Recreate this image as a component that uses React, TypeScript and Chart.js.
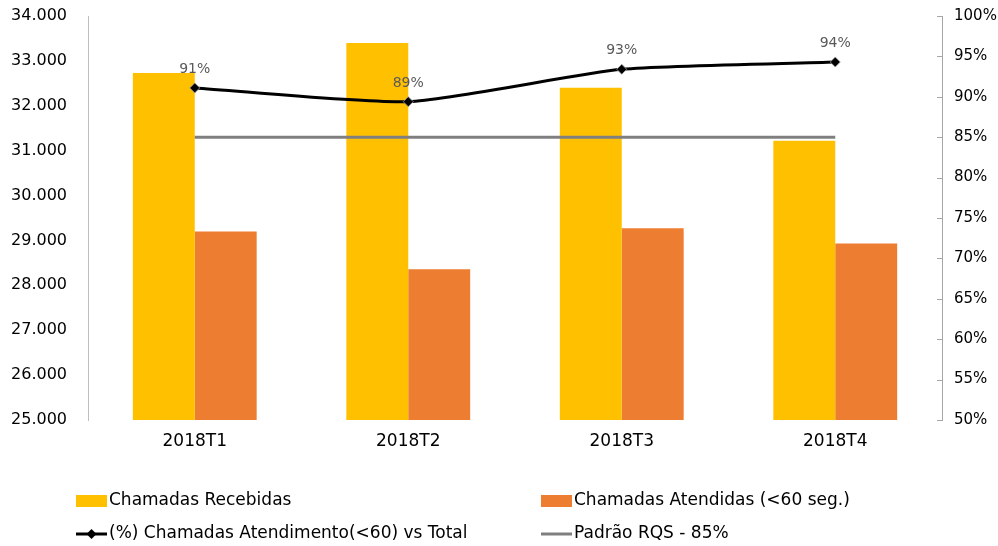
import React, { useEffect, useRef } from "react";
import { Chart, registerables } from "chart.js";

Chart.register(...registerables);

const categories = ["2018T1", "2018T2", "2018T3", "2018T4"];
const recebidas = [32730, 33400, 32400, 31220];
const atendidas = [29200, 28360, 29270, 28930];
const percentual = [91.1, 89.4, 93.4, 94.3];
const padraoRQS = [85, 85, 85, 85];
const legendLabels = [
  "Chamadas Recebidas",
  "Chamadas Atendidas (<60 seg.)",
  "(%) Chamadas Atendimento(<60) vs Total",
  "Padrão RQS - 85%",
];

const FONT = "'DejaVu Sans', sans-serif";

const fmtThousands = (v: number) => {
  const s = Math.round(v).toString();
  return s.replace(/\B(?=(\d{3})+(?!\d))/g, ".");
};

const extrasPlugin = {
  id: "extras",
  afterDatasetsDraw(chart: any) {
    const ctx = chart.ctx;
    const meta = chart.getDatasetMeta(2);
    ctx.save();
    ctx.font = `14px ${FONT}`;
    ctx.fillStyle = "#595959";
    ctx.textAlign = "center";
    ctx.textBaseline = "alphabetic";
    meta.data.forEach((pt: any, i: number) => {
      ctx.fillText(Math.round(percentual[i]) + "%", pt.x, pt.y - 15);
    });
    ctx.restore();
  },
  afterDraw(chart: any) {
    const ctx = chart.ctx;
    const y1 = chart.scales.y1;
    ctx.save();
    ctx.strokeStyle = "#a6a6a6";
    ctx.lineWidth = 1;
    y1.ticks.forEach((t: any) => {
      const y = Math.round(y1.getPixelForValue(t.value)) + 0.5;
      ctx.beginPath();
      ctx.moveTo(y1.left - 5, y);
      ctx.lineTo(y1.left, y);
      ctx.stroke();
    });
    const colX = [76, 541];
    const rowY = [501, 534];
    ctx.font = `17px ${FONT}`;
    ctx.textBaseline = "middle";
    ctx.textAlign = "left";
    const items = [
      { type: "box", color: "#FFC000" },
      { type: "box", color: "#ED7D31" },
      { type: "marker", color: "#000000" },
      { type: "line", color: "#7F7F7F" },
    ];
    items.forEach((it, i) => {
      const x = colX[i % 2];
      const y = rowY[Math.floor(i / 2)];
      if (it.type === "box") {
        ctx.fillStyle = it.color;
        ctx.fillRect(x, y - 6, 31, 12);
      } else {
        ctx.strokeStyle = it.color;
        ctx.lineWidth = 3;
        ctx.beginPath();
        ctx.moveTo(x, y);
        ctx.lineTo(x + 31, y);
        ctx.stroke();
        if (it.type === "marker") {
          ctx.fillStyle = "#000";
          ctx.beginPath();
          const cx = x + 15.5;
          ctx.moveTo(cx, y - 5);
          ctx.lineTo(cx + 5, y);
          ctx.lineTo(cx, y + 5);
          ctx.lineTo(cx - 5, y);
          ctx.closePath();
          ctx.fill();
        }
      }
      ctx.fillStyle = "#000";
      ctx.fillText(legendLabels[i], x + 33, y);
    });
    ctx.restore();
  },
};

export default function App() {
  const ref = useRef<HTMLCanvasElement>(null);
  useEffect(() => {
    if (!ref.current) return;
    const chart = new Chart(ref.current, {
      type: "bar",
      data: {
        labels: categories,
        datasets: [
          {
            type: "bar",
            label: legendLabels[0],
            data: recebidas,
            backgroundColor: "#FFC000",
            yAxisID: "y",
            order: 2,
            categoryPercentage: 0.58,
            barPercentage: 1,
          },
          {
            type: "bar",
            label: legendLabels[1],
            data: atendidas,
            backgroundColor: "#ED7D31",
            yAxisID: "y",
            order: 2,
            categoryPercentage: 0.58,
            barPercentage: 1,
          },
          {
            type: "line",
            label: legendLabels[2],
            data: percentual,
            borderColor: "#000000",
            borderWidth: 3,
            tension: 0.2,
            pointStyle: "rectRot",
            pointRadius: 5,
            pointBackgroundColor: "#000000",
            pointBorderColor: "rgba(160,160,160,0.8)",
            pointBorderWidth: 1,
            yAxisID: "y1",
            order: 0,
          },
          {
            type: "line",
            label: legendLabels[3],
            data: padraoRQS,
            borderColor: "#7F7F7F",
            borderWidth: 3,
            pointRadius: 0,
            tension: 0,
            yAxisID: "y1",
            order: 1,
          },
        ] as any,
      },
      options: {
        animation: false,
        responsive: false,
        maintainAspectRatio: false,
        layout: { padding: { top: 16, bottom: 86, left: 0, right: 0 } },
        plugins: {
          legend: { display: false },
          tooltip: { enabled: false },
        },
        scales: {
          x: {
            grid: { display: false },
            border: { display: false },
            ticks: {
              font: { family: FONT, size: 17 },
              color: "#000",
              padding: 3,
            },
            afterFit(scale: any) {
              scale.height = 40;
            },
          },
          y: {
            position: "left",
            min: 25000,
            max: 34000,
            grid: { display: false, drawTicks: true, tickLength: 21 },
            border: { display: true, color: "#bfbfbf", width: 1 },
            ticks: {
              stepSize: 1000,
              font: { family: FONT, size: 16 },
              color: "#000",
              padding: 0,
              callback: (v: any) => fmtThousands(Number(v)),
            },
            afterFit(scale: any) {
              scale.width = 88;
            },
          },
          y1: {
            position: "right",
            min: 50,
            max: 100,
            grid: { display: false, drawTicks: true, tickLength: 12 },
            border: { display: true, color: "#a6a6a6", width: 1 },
            ticks: {
              stepSize: 5,
              font: { family: FONT, size: 15 },
              color: "#000",
              padding: 0,
              callback: (v: any) => v + "%",
            },
            afterFit(scale: any) {
              scale.width = 56;
            },
          },
        },
      },
      plugins: [extrasPlugin],
    });
    return () => chart.destroy();
  }, []);
  return (
    <div style={{ position: "fixed", left: 0, top: 0, width: 998, height: 546, background: "#fff" }}>
      <canvas ref={ref} width={998} height={546} />
    </div>
  );
}
